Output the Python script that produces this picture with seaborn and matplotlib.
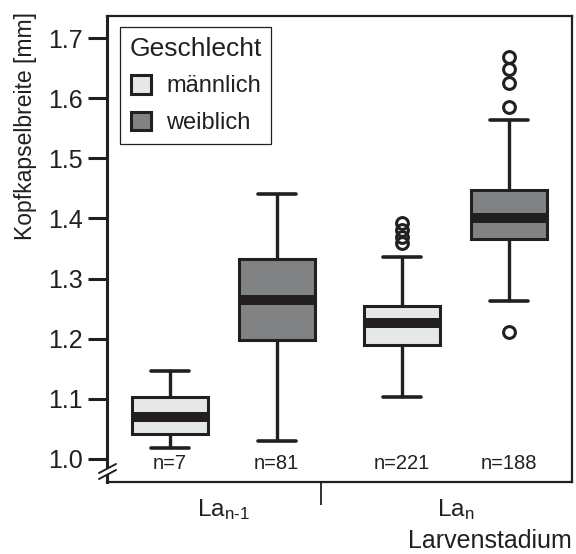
import numpy as np
import pandas as pd
import matplotlib
matplotlib.use("Agg")
import matplotlib.pyplot as plt
import seaborn as sns
from matplotlib.lines import Line2D

# ---------------- data ----------------
stages = ["La$_{n\u20101}$", "La$_{n}$"]
sexes = ["männlich", "weiblich"]
box_stage = [stages[0], stages[0], stages[1], stages[1]]
box_sex = ["männlich", "weiblich", "männlich", "weiblich"]
whisker_low = [1.019, 1.030, 1.103, 1.263]
q1 = [1.042, 1.198, 1.190, 1.366]
median = [1.070, 1.264, 1.226, 1.401]
q3 = [1.103, 1.332, 1.254, 1.447]
whisker_high = [1.146, 1.441, 1.336, 1.564]
outliers = [[], [], [1.359, 1.369, 1.381, 1.392], [1.211, 1.586, 1.625, 1.648, 1.668]]
n_counts = [7, 81, 221, 188]
yticks = [1.0, 1.1, 1.2, 1.3, 1.4, 1.5, 1.6, 1.7]

# Build a table whose quartiles / whiskers / fliers equal the values above
rows = []
for i in range(len(box_stage)):
    vals = ([whisker_low[i]] + [q1[i]] * 20 + [median[i]] * 20 +
            [q3[i]] * 20 + [whisker_high[i]] + outliers[i])
    for v in vals:
        rows.append({"stage": box_stage[i], "sex": box_sex[i], "width": v})
df = pd.DataFrame(rows)

# ---------------- style ----------------
sns.set_style("ticks")
plt.rcParams["font.family"] = ["Liberation Sans", "DejaVu Sans"]
plt.rcParams["mathtext.fontset"] = "custom"
plt.rcParams["mathtext.rm"] = "Liberation Sans"
plt.rcParams["mathtext.it"] = "Liberation Sans"
plt.rcParams["mathtext.default"] = "regular"
ink = "#231f20"

fig = plt.figure(figsize=(5.76, 5.54), dpi=100)
ax = fig.add_axes([107 / 576, 1 - 482 / 554, (572 - 107) / 576, (482 - 16) / 554])

box_width = 0.92
sns.boxplot(
    data=df, x="stage", y="width", hue="sex",
    order=stages, hue_order=sexes,
    palette={"männlich": "#e6e7e8", "weiblich": "#808285"},
    width=box_width, gap=0.29, whis=1.5,
    linecolor=ink, linewidth=2.2,
    medianprops=dict(color=ink, linewidth=7.2, solid_capstyle="butt"),
    whiskerprops=dict(color=ink, linewidth=2.4),
    capprops=dict(color=ink, linewidth=2.6),
    boxprops=dict(edgecolor=ink, linewidth=2.2),
    flierprops=dict(marker="o", markersize=8.5, markerfacecolor="none",
                    markeredgecolor=ink, markeredgewidth=2.2),
    ax=ax,
)

ax.set_xlim(-0.5, 1.5)
ax.set_ylim(0.9617, 1.7366)
ax.set_yticks(yticks)
ax.set_yticklabels([f"{t:.1f}" for t in yticks])

for s in ["top", "right", "bottom"]:
    ax.spines[s].set_linewidth(1.6)
    ax.spines[s].set_color(ink)
ax.spines["left"].set_linewidth(2.2)
ax.spines["left"].set_color(ink)

ax.tick_params(axis="y", length=14, width=2.2, color=ink, pad=3.5,
               labelsize=18, labelcolor=ink, direction="out")
ax.tick_params(axis="x", which="major", length=0, pad=11,
               labelsize=17.5, labelcolor=ink)
ax.set_xticks([0.42], minor=True)
ax.tick_params(axis="x", which="minor", length=16.5, width=1.3, color=ink,
               direction="out")

# n labels under each box
for i in range(len(box_stage)):
    gi = stages.index(box_stage[i])
    hi = sexes.index(box_sex[i])
    xpos = gi + (hi - 0.5) * box_width / 2
    ax.text(xpos, 0.993, f"n={n_counts[i]}", ha="center", va="center",
            fontsize=14.5, color=ink)

# axis labels
ax.set_ylabel("Kopfkapselbreite [mm]", fontsize=16.5, color=ink)
ax.yaxis.set_label_coords(-0.150, 0.765)
ax.set_xlabel("Larvenstadium", fontsize=18, color=ink, loc="right")
ax.xaxis.set_label_coords(1.0, -0.10)

# axis break marks
def axpt(px, py):
    return ((px - 107) / 465, (482 - py) / 466)

for (a, b), col, lw in [((axpt(99, 476), axpt(116, 467)), "white", 4.0),
                        ((axpt(99, 473), axpt(116, 464)), ink, 1.4),
                        ((axpt(99, 479), axpt(116, 470)), ink, 1.4)]:
    ax.add_line(Line2D([a[0], b[0]], [a[1], b[1]], transform=ax.transAxes,
                       color=col, lw=lw, clip_on=False, zorder=10))

# legend
handles, labels = ax.get_legend_handles_labels()
if ax.get_legend() is not None:
    ax.get_legend().remove()
leg = ax.legend(handles, labels, title="Geschlecht", loc="upper left",
                bbox_to_anchor=(0.028, 0.976), borderaxespad=0,
                fontsize=17, title_fontsize=19, frameon=True,
                fancybox=False, framealpha=1, edgecolor=ink,
                handlelength=0.85, handleheight=0.85, handletextpad=0.65,
                labelspacing=0.6, borderpad=0.4)
leg.get_frame().set_linewidth(0.9)
for t in leg.get_texts():
    t.set_color(ink)
leg.get_title().set_color(ink)

fig.savefig("out.png", dpi=100)
